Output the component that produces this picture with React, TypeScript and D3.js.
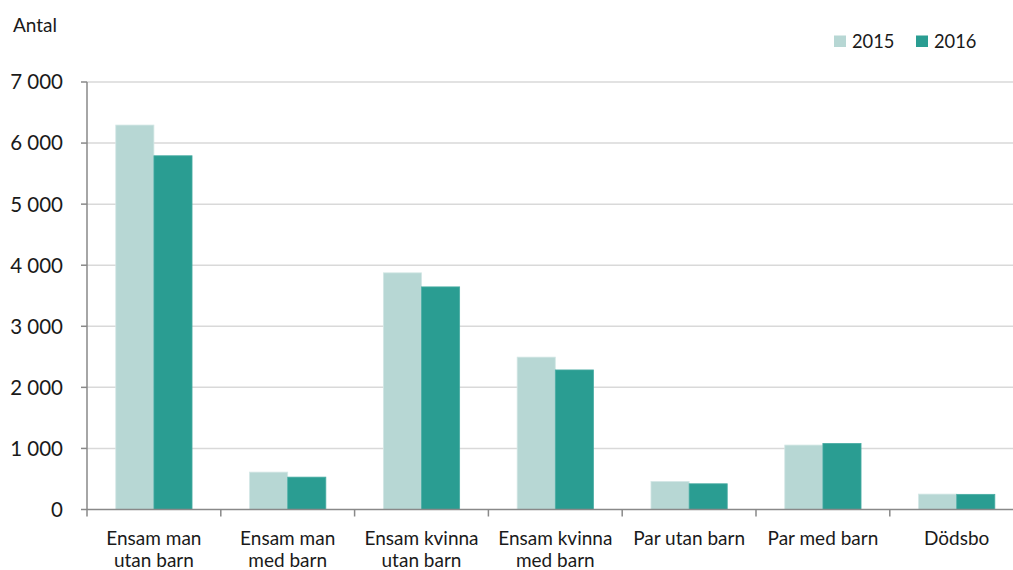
import * as React from "react";
import * as d3 from "d3";

const categories = [
  ["Ensam man", "utan barn"],
  ["Ensam man", "med barn"],
  ["Ensam kvinna", "utan barn"],
  ["Ensam kvinna", "med barn"],
  ["Par utan barn"],
  ["Par med barn"],
  ["Dödsbo"],
];
const values2015 = [6295, 612, 3875, 2495, 459, 1055, 252];
const values2016 = [5792, 530, 3645, 2285, 421, 1082, 248];
const seriesNames = ["2015", "2016"];
const yTicks = [0, 1000, 2000, 3000, 4000, 5000, 6000, 7000];

const COLORS = ["#b7d7d4", "#2a9d92"];
const FONT = "Lato, 'Open Sans', sans-serif";

const W = 1013;
const H = 570;
const margin = { left: 87, top: 82, bottom: 60 };
const bandW = 133.8;

export default function App() {
  const ih = 509.5 - margin.top;
  const keys = categories.map((_, i) => String(i));

  const x = d3
    .scaleBand<string>()
    .domain(keys)
    .range([0, bandW * keys.length])
    .paddingInner(0.43)
    .paddingOuter(0.215);
  const y = d3.scaleLinear().domain([0, 7000]).range([ih, 0]);
  const fmt = (v: number) => d3.format(",")(v).replace(/,/g, " ");

  const barW = x.bandwidth() / 2;
  const series = [values2015, values2016];

  return (
    <div style={{ position: "fixed", left: 0, top: 0 }}>
      <svg width={W} height={H} style={{ fontFamily: FONT, display: "block" }}>
        <rect width={W} height={H} fill="#fff" />
        <text x={13} y={32} fontSize={19} fill="#1a1a1a">
          Antal
        </text>

        {/* legend */}
        {seriesNames.map((name, i) => (
          <g key={name} transform={`translate(${834 + i * 82},35.5)`}>
            <rect width={12} height={11.5} fill={COLORS[i]} />
            <text x={18} y={12} fontSize={18.3} fill="#1a1a1a">
              {name}
            </text>
          </g>
        ))}

        <g transform={`translate(${margin.left},${margin.top})`}>
          {yTicks.map((t) => (
            <g key={t} transform={`translate(0,${y(t)})`}>
              {t > 0 && <line x1={0} x2={W} stroke="#d9d9d9" strokeWidth={1.5} />}
              <line x1={-6} x2={0} stroke="#898989" strokeWidth={1.5} />
              <text
                x={-24}
                dy="0.36em"
                textAnchor="end"
                fontSize={20.5}
                fill="#1a1a1a"
              >
                {fmt(t)}
              </text>
            </g>
          ))}

          {keys.map((k, ci) =>
            series.map((vals, si) => (
              <rect
                key={`${k}-${si}`}
                x={(x(k) ?? 0) + si * barW}
                y={y(vals[ci])}
                width={barW}
                height={ih - y(vals[ci])}
                fill={COLORS[si]}
                stroke={si === 0 ? "#d3e7e5" : "#49aca3"}
                strokeWidth={0.8}
              />
            ))
          )}

          <line x1={0} x2={0} y1={0} y2={ih} stroke="#898989" strokeWidth={1.5} />
          <line x1={0} x2={W} y1={ih} y2={ih} stroke="#898989" strokeWidth={1.5} />
          {d3.range(keys.length + 1).map((i) => (
            <line
              key={i}
              x1={i * bandW}
              x2={i * bandW}
              y1={ih}
              y2={ih + 7}
              stroke="#898989"
              strokeWidth={1.5}
            />
          ))}

          {categories.map((lines, ci) => (
            <text
              key={ci}
              x={(x(keys[ci]) ?? 0) + x.bandwidth() / 2}
              y={ih + 35}
              textAnchor="middle"
              fontSize={19}
              fill="#1a1a1a"
            >
              {lines.map((l, li) => (
                <tspan key={li} x={(x(keys[ci]) ?? 0) + x.bandwidth() / 2} dy={li === 0 ? 0 : 22}>
                  {l}
                </tspan>
              ))}
            </text>
          ))}
        </g>
      </svg>
    </div>
  );
}
